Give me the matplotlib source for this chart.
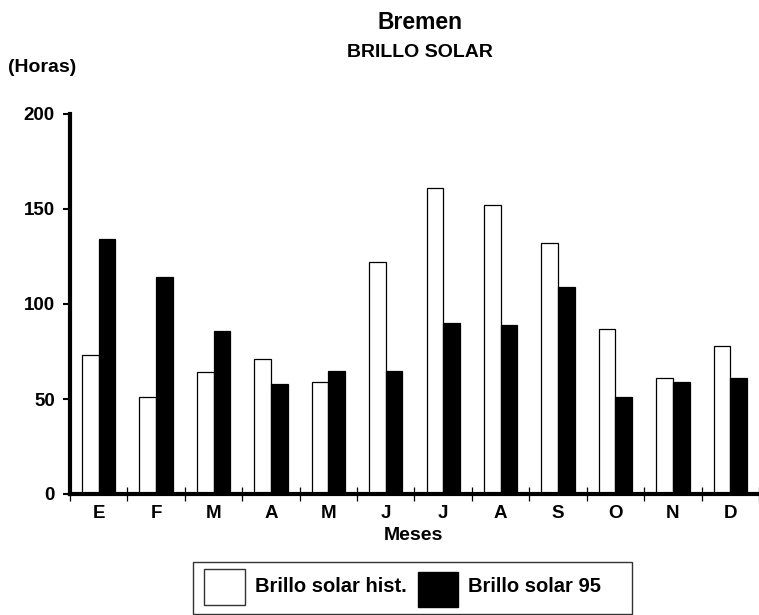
import matplotlib
matplotlib.use("Agg")
import matplotlib.pyplot as plt
from matplotlib.patches import Rectangle
import numpy as np

plt.rcParams['font.family'] = ['Liberation Sans', 'DejaVu Sans']

months = ['E', 'F', 'M', 'A', 'M', 'J', 'J', 'A', 'S', 'O', 'N', 'D']
brillo_hist = [73, 51, 64, 71, 59, 122, 161, 152, 132, 87, 61, 78]
brillo_95 = [134, 114, 86, 58, 65, 65, 90, 89, 109, 51, 59, 61]
yticks = [0, 50, 100, 150, 200]

W, H = 759, 615
fig = plt.figure(figsize=(W / 100, H / 100), dpi=100)
fig.patch.set_facecolor('white')

def fx(x):
    return x / W

def fy(y):
    return 1 - y / H

# axes in pixel geometry
left, right, top, bottom = 70, 759, 114, 494
ax = fig.add_axes([fx(left), fy(bottom), (right - left) / W, (bottom - top) / H])
cat_w = 57.75
x = np.arange(len(months))
ax.set_xlim(-0.5, -0.5 + (right - left) / cat_w)
ax.set_ylim(0, 200)

bw = 0.29
ax.bar(x - bw / 2, brillo_hist, width=bw, facecolor='white', edgecolor='black', linewidth=0.9, zorder=2)
ax.bar(x + bw / 2, brillo_95, width=bw, facecolor='black', edgecolor='black', linewidth=0.9, zorder=2)

for s in ['top', 'right']:
    ax.spines[s].set_visible(False)
for s in ['left', 'bottom']:
    ax.spines[s].set_linewidth(3)
    ax.spines[s].set_zorder(3)

ax.set_yticks(yticks)
ax.set_yticklabels([str(v) for v in yticks], fontsize=13.5, fontweight='bold')
ax.tick_params(axis='y', direction='out', length=5, width=1.5, pad=6)

ax.set_xticks(x)
ax.set_xticklabels(months, fontsize=13.5, fontweight='bold')
ax.tick_params(axis='x', which='major', length=0, pad=8)
ax.set_xticks(np.arange(-0.5, 12, 1), minor=True)
ax.tick_params(axis='x', which='minor', direction='inout', length=10, width=0.9)

# titles and labels
fig.text(fx(420), fy(29), 'Bremen', ha='center', va='baseline', fontsize=16.5, fontweight='bold')
fig.text(fx(420), fy(57), 'BRILLO SOLAR', ha='center', va='baseline', fontsize=14, fontweight='bold')
fig.text(fx(8), fy(72), '(Horas)', ha='left', va='baseline', fontsize=14, fontweight='bold')
fig.text(fx(413), fy(540), 'Meses', ha='center', va='baseline', fontsize=14, fontweight='bold')

# legend box
def prect(x0, y0, x1, y1, **kw):
    r = Rectangle((fx(x0), fy(y1)), (x1 - x0) / W, (y1 - y0) / H, transform=fig.transFigure, **kw)
    fig.add_artist(r)

prect(193, 562, 632, 614, facecolor='white', edgecolor='#333333', linewidth=1.0)
prect(204, 569, 245, 605, facecolor='white', edgecolor='#333333', linewidth=1.0)
prect(418, 572, 458, 607, facecolor='black', edgecolor='black', linewidth=1.0)
fig.text(fx(255), fy(592), 'Brillo solar hist.', ha='left', va='baseline', fontsize=14.5, fontweight='bold')
fig.text(fx(468), fy(592), 'Brillo solar 95', ha='left', va='baseline', fontsize=14.5, fontweight='bold')

fig.savefig('out.png', dpi=100, facecolor='white')
